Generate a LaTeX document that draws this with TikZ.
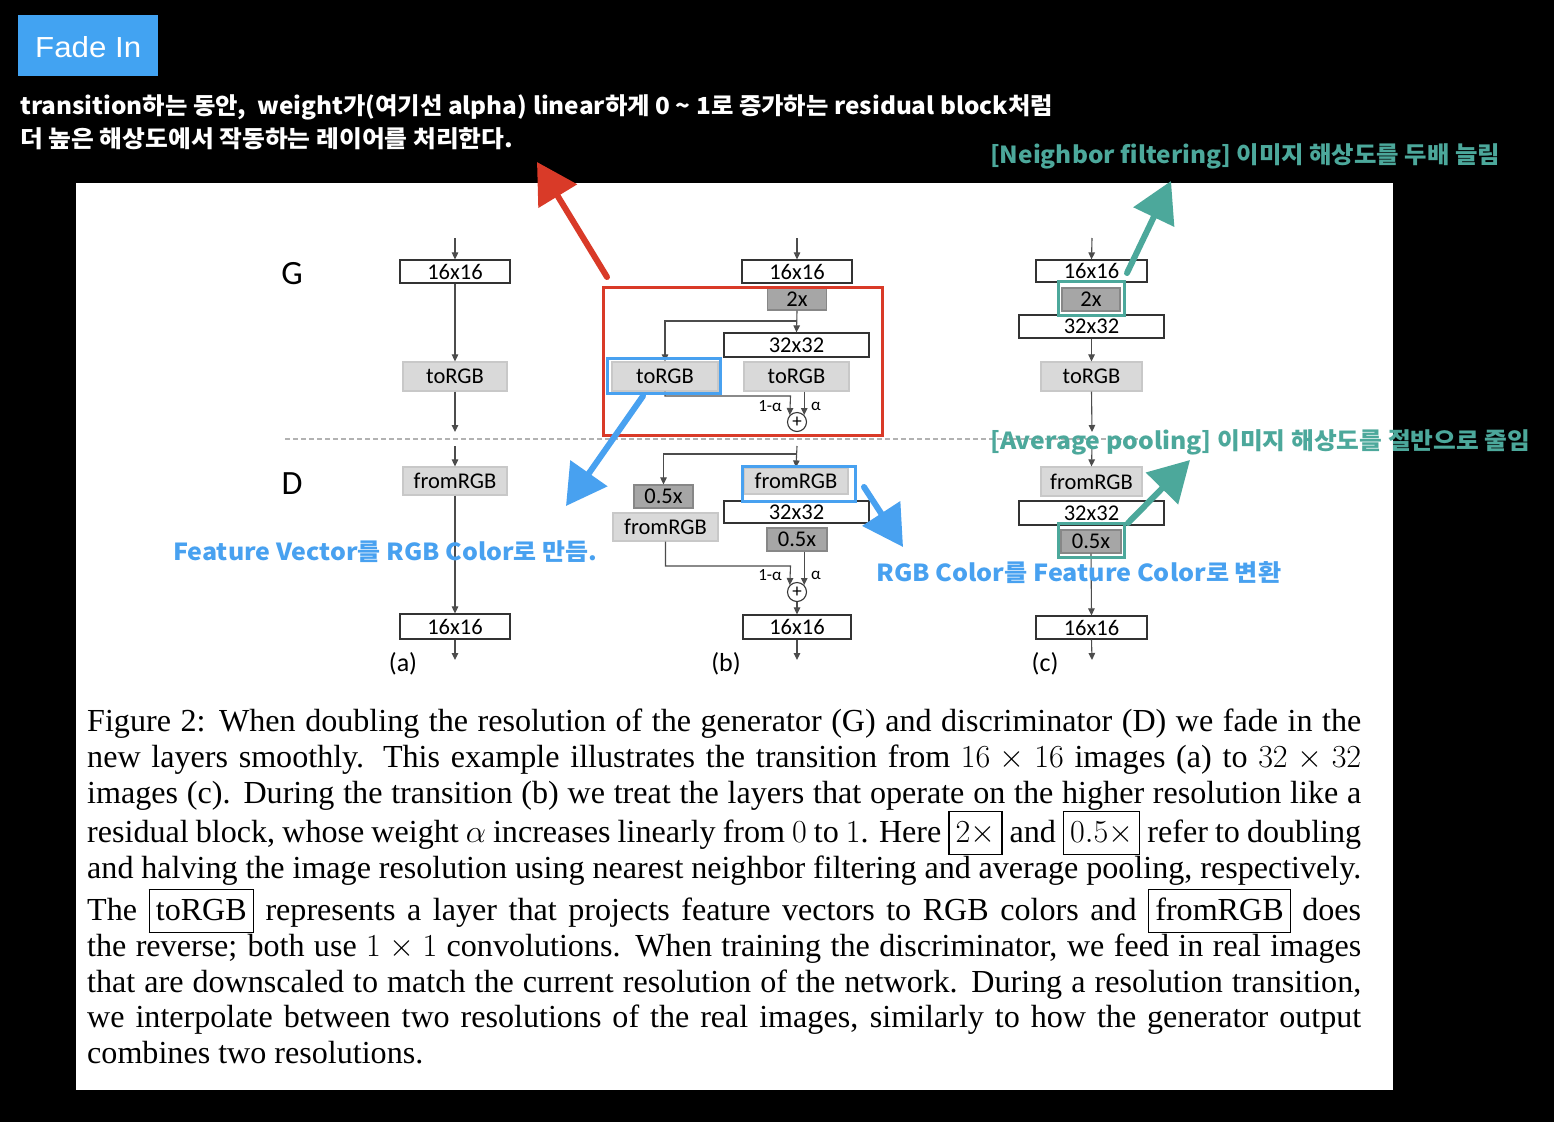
\documentclass[tikz,border=0pt]{standalone}
\usepackage{fix-cm}
\usepackage{fontspec}
\usepackage{graphicx}
\usetikzlibrary{arrows.meta}
\newfontfamily\carl{Carlito}
\newfontfamily\kr{Noto Sans CJK KR}
\newfontfamily\capf{Liberation Serif}
\newfontfamily\fadef{Liberation Sans}
\definecolor{fadeblue}{RGB}{66,163,242}
\definecolor{annblue}{RGB}{72,161,240}
\definecolor{annteal}{RGB}{76,168,155}
\definecolor{annred}{RGB}{217,58,40}
\definecolor{lgfill}{RGB}{217,217,217}
\definecolor{lgdraw}{RGB}{200,200,200}
\definecolor{dgfill}{RGB}{166,166,166}
\definecolor{dgdraw}{RGB}{135,135,135}
\newcommand\fitw[2]{\resizebox{#1}{\height}{#2}}
\newcommand\capbox[1]{{\setlength\fboxsep{6pt}\setlength\fboxrule{1.2pt}\fbox{\rule[-6pt]{0pt}{30pt}#1}}}
\newcommand\capline[1]{\makebox[1274pt][s]{#1}}
\begin{document}
\begin{tikzpicture}[x=1pt,y=-1pt,
 wbox/.style={draw=black!80,fill=white,line width=1.2pt,inner sep=0pt,font=\carl\fontsize{22.5}{22.5}\selectfont},
 lgbox/.style={draw=lgdraw,fill=lgfill,line width=1.2pt,inner sep=0pt,font=\carl\fontsize{22.5}{22.5}\selectfont},
 dgbox/.style={draw=dgdraw,fill=dgfill,line width=1.2pt,inner sep=0pt,font=\carl\fontsize{22.5}{22.5}\selectfont},
 hlbox/.style={line width=3pt,inner sep=0pt},
 conn/.style={draw=black!70,line width=1.1pt,-{Triangle[length=7pt,width=6.5pt]}},
 sumnode/.style={circle,draw=black!80,line width=1.1pt,fill=white,minimum size=19pt,inner sep=0pt,font=\carl\fontsize{19}{19}\selectfont},
 wlabel/.style={font=\carl\fontsize{17}{17}\selectfont,inner sep=0pt},
 biglabel/.style={font=\carl\fontsize{34}{34}\selectfont,inner sep=0pt},
 sublabel/.style={font=\carl\fontsize{26}{26}\selectfont,inner sep=0pt},
 handarrow/.style={line width=6pt,line cap=round,-{Triangle[length=40pt,width=44pt]}},
 ann/.style={anchor=base west,inner sep=0pt},
 annk/.style={anchor=base west,inner sep=0pt,font=\kr\bfseries\fontsize{23.5}{23.5}\selectfont},
 captext/.style={anchor=base west,inner sep=0pt,font=\capf\fontsize{32.1}{35.3}\selectfont},
]
% background and panel
\fill[black] (0,0) rectangle (1554,1122);
\useasboundingbox (0,0) rectangle (1554,1122);
\fill[white] (76,183) rectangle (1393,1090);

% Fade In box
\node[fill=fadeblue,minimum width=140pt,minimum height=61pt,inner sep=0pt] (fadebox) at (88,45.5) {};
\node[ann,text=white,font=\fadef\fontsize{29}{29}\selectfont] (fadetext) at (35,57) {\fitw{106pt}{Fade In}};

% dashed separator
\coordinate (dashL) at (285,439);
\coordinate (dashR) at (1140,439);
\draw[gray!60,line width=1.2pt,dash pattern=on 5pt off 3pt] (dashL) -- (dashR);

% labels G D
\node[biglabel] (Glab) at (292,274) {G};
\node[biglabel] (Dlab) at (292,484) {D};

% ---------- column (a)
\node[wbox,minimum width=110pt,minimum height=23pt] (a16g) at (455,271.5) {16x16};
\node[lgbox,minimum width=104pt,minimum height=29pt] (atog) at (455,376.5) {toRGB};
\node[lgbox,minimum width=104pt,minimum height=28pt] (afrm) at (455,481) {fromRGB};
\node[wbox,minimum width=110pt,minimum height=25pt] (a16d) at (455,626.5) {16x16};
\coordinate (ainG) at (455,238);
\coordinate (aoutG) at (455,432);
\coordinate (ainD) at (455,446);
\coordinate (aoutD) at (455,660);
\draw[conn] (ainG) -- (a16g.north);
\draw[conn] (a16g.south) -- (atog.north);
\draw[conn] (atog.south) -- (aoutG);
\draw[conn] (ainD) -- (afrm.north);
\draw[conn] (afrm.south) -- (a16d.north);
\draw[conn] (a16d.south) -- (aoutD);
\node[sublabel] (labA) at (403,664) {(a)};

% ---------- column (b) generator
\node[wbox,minimum width=110pt,minimum height=23pt] (b16g) at (797,271.5) {16x16};
\node[dgbox,minimum width=59pt,minimum height=22pt] (b2x) at (797,299) {2x};
\node[wbox,minimum width=145pt,minimum height=24pt] (b32) at (796.5,345) {32x32};
\node[lgbox,minimum width=106pt,minimum height=29pt] (btoL) at (665,376.5) {toRGB};
\node[lgbox,minimum width=105pt,minimum height=29pt] (btoR) at (796.5,376.5) {toRGB};
\node[sumnode] (bplusG) at (797,422) {+};
\coordinate (binG) at (797,238);
\coordinate (bsplitG) at (797,321);
\coordinate (bjoinG) at (790.5,396);
\draw[conn] (binG) -- (b16g.north);
\draw[conn] (b2x.south) -- (b32.north);
\draw[conn] (bsplitG) -| (btoL.north);
\draw[conn] (btoL.south) |- (bjoinG) -- (bplusG.136);
\draw[conn] (bplusG.44 |- btoR.south) -- (bplusG.44);
\node[wlabel] (bla1) at (770,406) {1-α};
\node[wlabel] (bla2) at (816,406) {α};

% ---------- column (b) discriminator
\node[lgbox,minimum width=104pt,minimum height=26pt] (bfrmR) at (796,481) {fromRGB};
\node[wbox,minimum width=145pt,minimum height=22pt] (b32d) at (796.5,512) {32x32};
\node[dgbox,minimum width=60pt,minimum height=23pt] (b05R) at (797,539.5) {0.5x};
\node[dgbox,minimum width=59pt,minimum height=23pt] (b05L) at (663.5,496.5) {0.5x};
\node[lgbox,minimum width=105pt,minimum height=28pt] (bfrmL) at (665.5,527) {fromRGB};
\node[sumnode] (bplusD) at (797,592) {+};
\node[wbox,minimum width=108pt,minimum height=24pt] (b16d) at (797,627) {16x16};
\coordinate (binD) at (797,446);
\coordinate (bsplitD) at (797,454);
\coordinate (bjoinD) at (790.5,566);
\coordinate (boutD) at (797,660);
\draw[conn] (binD) -- (bfrmR.north);
\draw[conn] (bsplitD) -| (b05L.north);
\draw[conn] (bfrmL.south) |- (bjoinD) -- (bplusD.136);
\draw[conn] (bplusD.44 |- b05R.south) -- (bplusD.44);
\draw[conn] (bplusD.south) -- (b16d.north);
\draw[conn] (b16d.south) -- (boutD);
\node[wlabel] (blb1) at (770,575) {1-α};
\node[wlabel] (blb2) at (816,575) {α};
\node[sublabel] (labB) at (726,664) {(b)};

% ---------- column (c)
\node[wbox,minimum width=111pt,minimum height=22pt] (c16g) at (1091.5,271) {16x16};
\node[dgbox,minimum width=58pt,minimum height=23pt] (c2x) at (1091,299.5) {2x};
\node[wbox,minimum width=145pt,minimum height=23pt] (c32) at (1091.5,326.5) {32x32};
\node[lgbox,minimum width=101pt,minimum height=29pt] (ctog) at (1091.5,376.5) {toRGB};
\node[lgbox,minimum width=101pt,minimum height=29pt] (cfrm) at (1091.5,481.5) {fromRGB};
\node[wbox,minimum width=145pt,minimum height=24pt] (c32d) at (1091.5,513) {32x32};
\node[dgbox,minimum width=60pt,minimum height=23pt] (c05) at (1091,541.5) {0.5x};
\node[wbox,minimum width=111pt,minimum height=23pt] (c16d) at (1091.5,627.5) {16x16};
\coordinate (cinG) at (1092,238);
\coordinate (coutG) at (1092,432);
\coordinate (cinD) at (1092,446);
\coordinate (coutD) at (1092,660);
\draw[conn] (cinG) -- (c16g.north);
\draw[conn] (c32.south) -- (ctog.north);
\draw[conn] (ctog.south) -- (coutG);
\draw[conn] (cinD) -- (cfrm.north);
\draw[conn] (c05.south) -- (c16d.north);
\draw[conn] (c16d.south) -- (coutD);
\node[sublabel] (labC) at (1045,664) {(c)};

% ---------- highlight boxes
\node[hlbox,draw=annred,minimum width=279pt,minimum height=148pt] (redbox) at (742.5,361) {};
\node[hlbox,draw=annblue,minimum width=113pt,minimum height=35pt] (hlB1) at (663.5,375.5) {};
\node[hlbox,draw=annblue,minimum width=113pt,minimum height=35pt] (hlB2) at (798.5,483.5) {};
\node[hlbox,draw=annteal,minimum width=66pt,minimum height=34pt] (hlT1) at (1091,298) {};
\node[hlbox,draw=annteal,minimum width=66pt,minimum height=34pt] (hlT2) at (1091,540) {};

% ---------- hand drawn arrows
\coordinate (rS) at (607,277);   \coordinate (rT) at (537,162);
\coordinate (b1S) at (643,396);  \coordinate (b1T) at (566,506);
\coordinate (b2S) at (864,487);  \coordinate (b2T) at (903,547);
\coordinate (t1S) at (1127,273); \coordinate (t1T) at (1171,181);
\coordinate (t2S) at (1128,523); \coordinate (t2T) at (1190,460);
\draw[handarrow,annred] (rS) -- (rT);
\draw[handarrow,annblue] (b1S) -- (b1T);
\draw[handarrow,annblue] (b2S) -- (b2T);
\draw[handarrow,annteal] (t1S) -- (t1T);
\draw[handarrow,annteal] (t2S) -- (t2T);

% ---------- annotation texts
\node[annk,text=white] (top1) at (20,114) {\fitw{1033pt}{transition하는 동안,~ weight가(여기선 alpha) linear하게 0 \textasciitilde{} 1로 증가하는 residual block처럼}};
\node[annk,text=white] (top2) at (20,147) {\fitw{493pt}{더 높은 해상도에서 작동하는 레이어를 처리한다.}};
\node[annk,text=annteal] (nbr) at (990,163) {\fitw{510pt}{[Neighbor filtering] 이미지 해상도를 두배 늘림}};
\node[annk,text=annteal] (avg) at (990,449) {\fitw{540pt}{[Average pooling] 이미지 해상도를 절반으로 줄임}};
\node[annk,text=annblue] (fv) at (173,560) {\fitw{424pt}{Feature Vector를 RGB Color로 만듬.}};
\node[annk,text=annblue] (rgbc) at (876,581) {\fitw{405pt}{RGB Color를 Feature Color로 변환}};

% ---------- caption
\node[captext] (cap1) at (87,731) {\capline{Figure 2: When doubling the resolution of the generator (G) and discriminator (D) we fade in the}};
\node[captext] (cap2) at (87,767) {\capline{new layers smoothly. This example illustrates the transition from $16\times 16$ images (a) to $32\times 32$}};
\node[captext] (cap3) at (87,803) {\capline{images (c). During the transition (b) we treat the layers that operate on the higher resolution like a}};
\node[captext] (cap4) at (87,842) {\capline{residual block, whose weight $\alpha$ increases linearly from $0$ to $1$. Here \capbox{$2\times$} and \capbox{$0.5\times$} refer to doubling}};
\node[captext] (cap5) at (87,878) {\capline{and halving the image resolution using nearest neighbor filtering and average pooling, respectively.}};
\node[captext] (cap6) at (87,920) {\capline{The \capbox{toRGB} represents a layer that projects feature vectors to RGB colors and \capbox{fromRGB} does}};
\node[captext] (cap7) at (87,956) {\capline{the reverse; both use $1\times 1$ convolutions. When training the discriminator, we feed in real images}};
\node[captext] (cap8) at (87,992) {\capline{that are downscaled to match the current resolution of the network. During a resolution transition,}};
\node[captext] (cap9) at (87,1027) {\capline{we interpolate between two resolutions of the real images, similarly to how the generator output}};
\node[captext] (cap10) at (87,1063) {combines two resolutions.};
\end{tikzpicture}
\end{document}
